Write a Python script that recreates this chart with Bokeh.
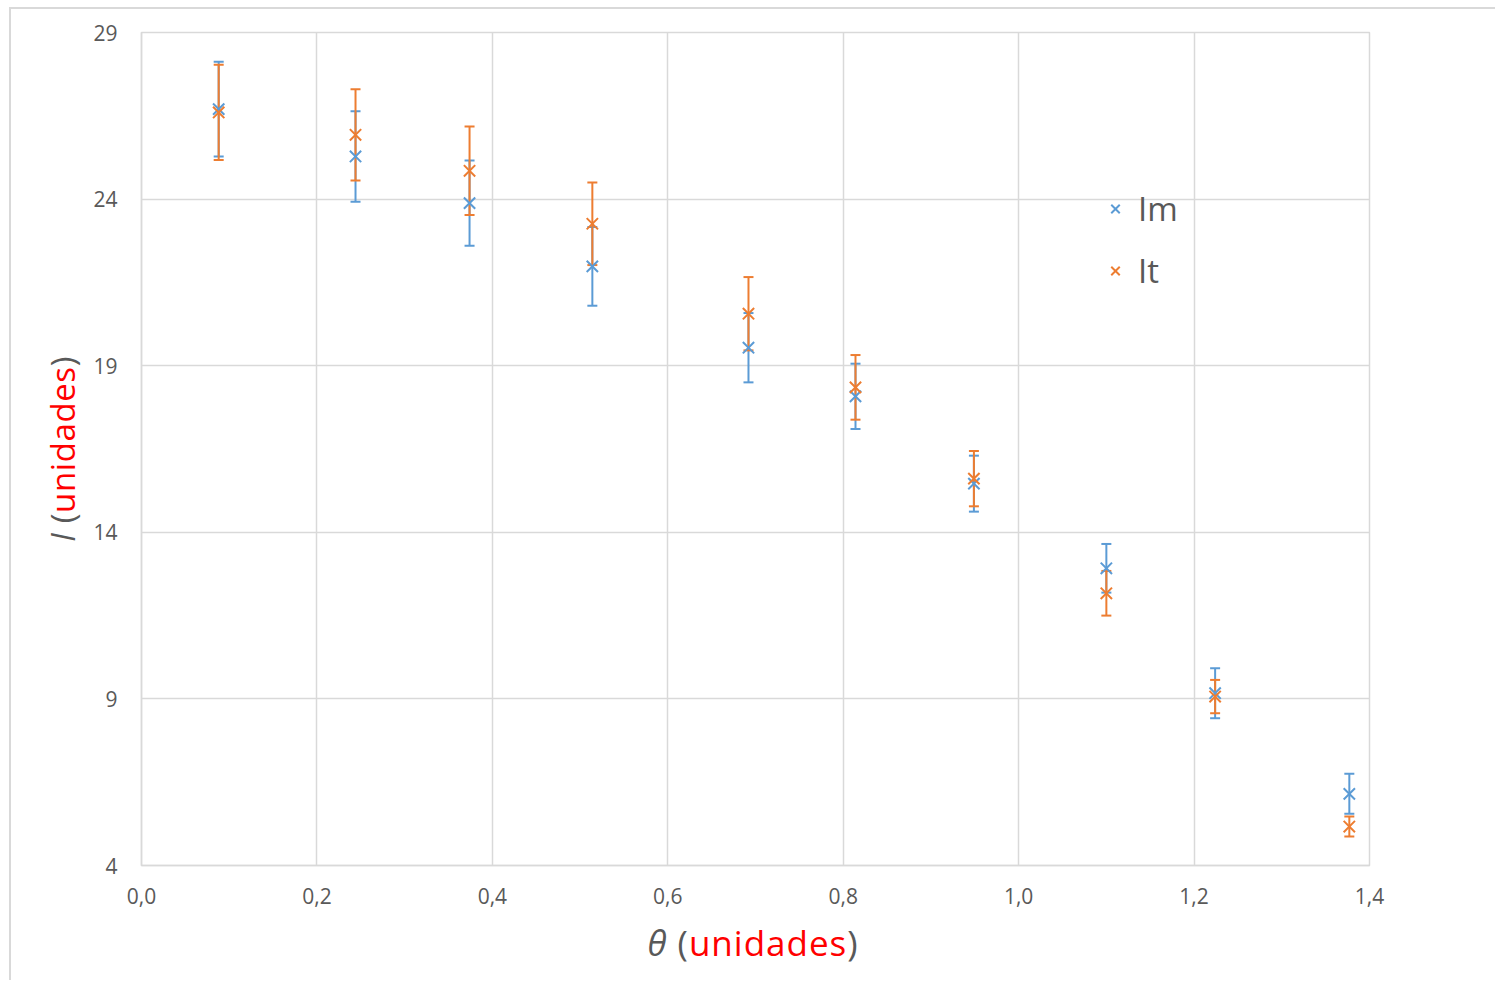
from bokeh.plotting import figure
from bokeh.models import (ColumnDataSource, Whisker, TeeHead, Legend, Range1d, Div,
                          FixedTicker, CustomJSTickFormatter)
from bokeh.layouts import column, row
from bokeh.embed import file_html
from bokeh.resources import INLINE

# ---------------- data ----------------
theta = [0.088, 0.244, 0.374, 0.514, 0.692, 0.814, 0.949, 1.100, 1.224, 1.377]
Im = [26.70, 25.28, 23.88, 21.98, 19.54, 18.08, 15.46, 12.92, 9.17, 6.15]
Im_err = [1.42, 1.36, 1.28, 1.18, 1.04, 0.98, 0.84, 0.73, 0.75, 0.60]
It = [26.60, 25.93, 24.85, 23.26, 20.56, 18.35, 15.61, 12.17, 9.07, 5.17]
It_err = [1.43, 1.37, 1.33, 1.24, 1.10, 0.97, 0.83, 0.67, 0.50, 0.30]
x_ticks = [0.0, 0.2, 0.4, 0.6, 0.8, 1.0, 1.2, 1.4]
y_ticks = [4, 9, 14, 19, 24, 29]
series_names = ["Im", "It"]
axis_word = "unidades"

BLUE = "#5B9BD5"
ORANGE = "#ED7D31"
GRID = "#D9D9D9"
TXT = "#595959"
RED = "#FF0000"
FONT = "Open Sans"

src_m = ColumnDataSource(dict(x=theta, y=Im,
                              lo=[v - e for v, e in zip(Im, Im_err)],
                              hi=[v + e for v, e in zip(Im, Im_err)]))
src_t = ColumnDataSource(dict(x=theta, y=It,
                              lo=[v - e for v, e in zip(It, It_err)],
                              hi=[v + e for v, e in zip(It, It_err)]))

p = figure(width=1407, height=911, output_backend="svg", toolbar_location=None,
           x_range=Range1d(x_ticks[0], x_ticks[-1]), y_range=Range1d(y_ticks[0], y_ticks[-1]),
           min_border_left=53, min_border_right=126, min_border_top=23, min_border_bottom=55,
           background_fill_color="white", border_fill_color="white")

p.outline_line_color = GRID
p.outline_line_width = 1.5

for ax in (p.xaxis, p.yaxis):
    ax.axis_line_color = GRID
    ax.axis_line_width = 1.5
    ax.major_tick_line_color = None
    ax.minor_tick_line_color = None
    ax.major_label_text_font = FONT
    ax.major_label_text_font_size = "21px"
    ax.major_label_text_color = TXT

p.xaxis.ticker = FixedTicker(ticks=x_ticks)
p.yaxis.ticker = FixedTicker(ticks=y_ticks)
p.xaxis.formatter = CustomJSTickFormatter(code="return tick.toFixed(1).replace('.', ',');")
p.yaxis.formatter = CustomJSTickFormatter(code="return tick.toFixed(0);")
p.xaxis.major_label_standoff = 16
p.yaxis.major_label_standoff = 18

p.xgrid.ticker = FixedTicker(ticks=x_ticks)
p.ygrid.ticker = FixedTicker(ticks=y_ticks)
for g in (p.xgrid, p.ygrid):
    g.grid_line_color = GRID
    g.grid_line_width = 1.5

# error bars
for src, col in ((src_m, BLUE), (src_t, ORANGE)):
    w = Whisker(source=src, base="x", upper="hi", lower="lo", dimension="height",
                line_color=col, line_width=2,
                upper_head=TeeHead(size=10, line_color=col, line_width=2),
                lower_head=TeeHead(size=10, line_color=col, line_width=2))
    p.add_layout(w)

r_m = p.scatter("x", "y", source=src_m, marker="x", size=16, line_color=BLUE, line_width=2)
r_t = p.scatter("x", "y", source=src_t, marker="x", size=16, line_color=ORANGE, line_width=2)

legend = Legend(items=[(series_names[0], [r_m]), (series_names[1], [r_t])], location=(959, 572),
                glyph_width=30, glyph_height=45, label_height=45, spacing=17,
                padding=0, margin=0, label_standoff=8,
                label_text_font=FONT, label_text_font_size="33px", label_text_color=TXT,
                background_fill_alpha=0, border_line_color=None)
p.add_layout(legend)

# axis titles with two colours (HTML text)
ycss = ("font-family:'Open Sans';font-size:33px;line-height:45px;letter-spacing:0.6px;"
        "color:%s;white-space:nowrap;" % TXT)
xcss = ("font-family:'Open Sans';font-size:35px;line-height:45px;letter-spacing:1px;"
        "color:%s;white-space:nowrap;" % TXT)
ytitle = Div(width=77, height=911, margin=0, text=(
    '<div style="width:77px;height:911px;display:flex;align-items:center;justify-content:center;">'
    '<div style="flex-shrink:0;transform:translate(12.5px,-15.5px) rotate(-90deg);%s">'
    '<i>I</i> (<span style="color:%s">%s</span>)</div></div>') % (ycss, RED, axis_word))
xtitle = Div(width=1484, height=60, margin=0, text=(
    '<div style="width:1479px;padding-left:5px;text-align:center;%s">'
    '<i>θ</i> (<span style="color:%s">%s</span>)</div>') % (xcss, RED, axis_word))

layout = column(row(ytitle, p, spacing=0), xtitle, spacing=0, margin=(7, 0, 0, 9),
                styles={"border-left": "2px solid #D9D9D9", "border-top": "2px solid #D9D9D9"})

open("out.html", "w").write(file_html(layout, INLINE))
